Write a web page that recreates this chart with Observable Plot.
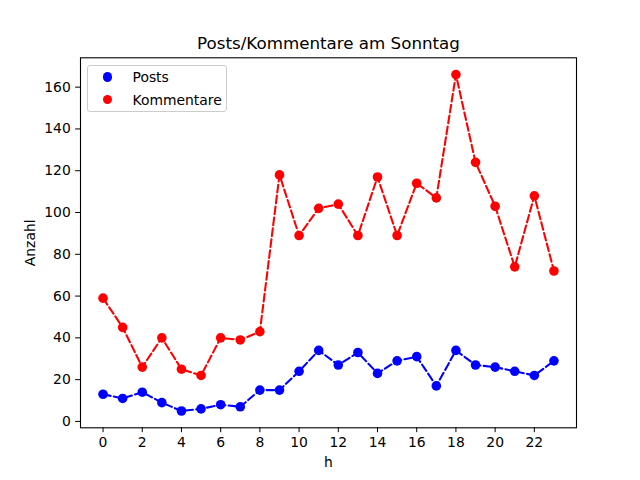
<!DOCTYPE html>
<html>
<head>
<meta charset="utf-8">
<script src="https://cdn.jsdelivr.net/npm/d3@7"></script>
<script src="https://cdn.jsdelivr.net/npm/@observablehq/plot@0.6"></script>
<style>
  body { margin: 0; background: white; }
  #wrap { position: relative; width: 640px; height: 480px; font-family: "DejaVu Sans", sans-serif; }
  #legend { position: absolute; left: 87px; top: 65px; width: 138px; height: 45px;
    border: 1px solid #cccccc; border-radius: 3px; background: rgba(255,255,255,0.8);
    font-size: 13.9px; color: black; }
  .row { position: absolute; left: 0; height: 16px; line-height: 16px; }
  .mk { position: absolute; left: 14.8px; top: 3.2px; width: 9.6px; height: 9.6px; border-radius: 50%; }
  .lb { position: absolute; left: 44.5px; top: 0; white-space: nowrap; }
</style>
</head>
<body>
<div id="wrap"></div>
<script>
const hours = [0,1,2,3,4,5,6,7,8,9,10,11,12,13,14,15,16,17,18,19,20,21,22,23];
const posts = [13,11,14,9,5,6,8,7,15,15,24,34,27,33,23,29,31,17,34,27,26,24,22,29];
const kommentare = [59,45,26,40,25,22,40,39,43,118,89,102,104,89,117,89,114,107,166,124,103,74,108,72];
const xTicks = [0,2,4,6,8,10,12,14,16,18,20,22];
const yTicks = [0,20,40,60,80,100,120,140,160];
const seriesNames = ["Posts", "Kommentare"];
const seriesColors = ["#0000ff", "#ff0000"];
const title = "Posts/Kommentare am Sonntag";
const xLabel = "h";
const yLabel = "Anzahl";

const table = hours.map((h, i) => ({h, posts: posts[i], kommentare: kommentare[i]}));
const dash = "7.7,3.3";

const chart = Plot.plot({
  width: 640,
  height: 480,
  marginLeft: 80,
  marginRight: 64,
  marginTop: 57.3,
  marginBottom: 52.7,
  style: {fontFamily: "DejaVu Sans", fontSize: "13.9px", color: "black", background: "white", overflow: "visible"},
  x: {domain: [-1.15, 24.15]},
  y: {domain: [-3.05, 174.05]},
  marks: [
    Plot.line(table, {x: "h", y: "posts", stroke: seriesColors[0], strokeWidth: 2.08, strokeDasharray: dash}),
    Plot.dot(table, {x: "h", y: "posts", r: 4.8, fill: seriesColors[0], stroke: "none"}),
    Plot.line(table, {x: "h", y: "kommentare", stroke: seriesColors[1], strokeWidth: 2.08, strokeDasharray: dash}),
    Plot.dot(table, {x: "h", y: "kommentare", r: 4.8, fill: seriesColors[1], stroke: "none"}),
    Plot.frame({stroke: "black", strokeWidth: 1.1}),
    Plot.axisX({ticks: xTicks, tickSize: 4.86, tickPadding: 4.86, label: null, tickFormat: d => String(d), fontSize: 13.9}),
    Plot.axisY({ticks: yTicks, tickSize: 4.86, tickPadding: 4.86, label: null, tickFormat: d => String(d), fontSize: 13.9}),
    Plot.text([xLabel], {frameAnchor: "bottom", dy: 35, fontSize: 13.9, lineAnchor: "middle", textAnchor: "middle"}),
    Plot.text([yLabel], {frameAnchor: "left", dx: -50, rotate: -90, fontSize: 13.9, lineAnchor: "middle", textAnchor: "middle"}),
    Plot.text([title], {frameAnchor: "top", dy: -14, fontSize: 16.7, lineAnchor: "middle", textAnchor: "middle"})
  ]
});

const wrap = document.getElementById("wrap");
wrap.appendChild(chart);

const legend = document.createElement("div");
legend.id = "legend";
seriesNames.forEach((name, i) => {
  const row = document.createElement("div");
  row.className = "row";
  row.style.top = (3 + i * 22.7) + "px";
  row.style.width = "100%";
  const mk = document.createElement("span");
  mk.className = "mk";
  mk.style.background = seriesColors[i];
  const lb = document.createElement("span");
  lb.className = "lb";
  lb.textContent = name;
  row.appendChild(mk);
  row.appendChild(lb);
  legend.appendChild(row);
});
wrap.appendChild(legend);
</script>
</body>
</html>
